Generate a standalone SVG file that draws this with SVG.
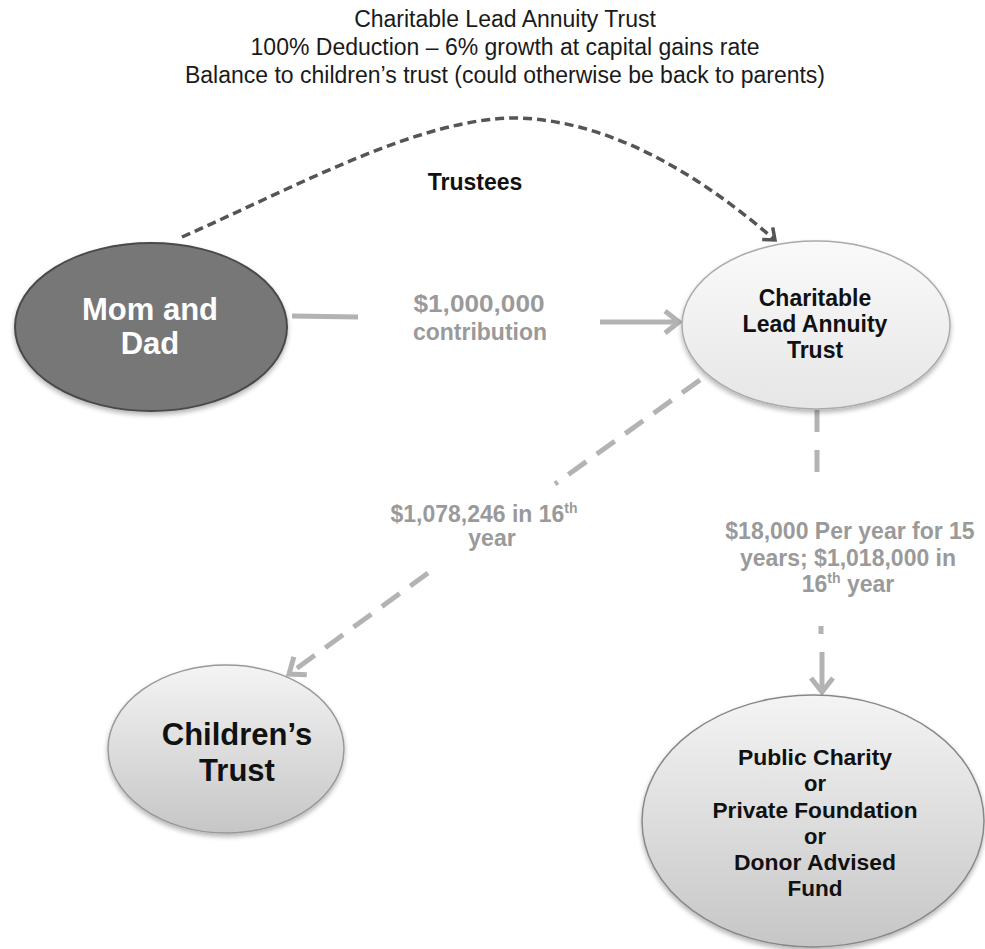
<svg xmlns="http://www.w3.org/2000/svg" width="985" height="949" viewBox="0 0 985 949">
<defs>
<style>
.t{font-family:"Liberation Sans",Arial,sans-serif;text-anchor:middle}
.title{font-size:23px;fill:#1a1a1a}
.lbl{font-size:23px;font-weight:bold;fill:#9a9a9a}
.nb{font-weight:bold;fill:#111}
.conn{fill:none;stroke:#b3b3b3;stroke-width:5}
</style>
<linearGradient id="gLight" x1="0" y1="0" x2="0" y2="1">
<stop offset="0" stop-color="#fafafa"/><stop offset="1" stop-color="#e6e6e6"/>
</linearGradient>
<linearGradient id="gGrey" x1="0" y1="0" x2="0" y2="1">
<stop offset="0" stop-color="#f4f4f4"/><stop offset="1" stop-color="#c6c6c6"/>
</linearGradient>
<filter id="sh" x="-10%" y="-10%" width="120%" height="125%">
<feGaussianBlur in="SourceAlpha" stdDeviation="2.5"/>
<feOffset dy="3"/>
<feComponentTransfer><feFuncA type="linear" slope="0.3"/></feComponentTransfer>
<feMerge><feMergeNode/><feMergeNode in="SourceGraphic"/></feMerge>
</filter>
<marker id="aL" markerUnits="userSpaceOnUse" markerWidth="30" markerHeight="30" viewBox="0 0 30 30" refX="26" refY="15" orient="auto">
<path d="M12,4 L26,15 L12,26" fill="none" stroke="#b3b3b3" stroke-width="5"/>
</marker>
<marker id="aD" markerUnits="userSpaceOnUse" markerWidth="24" markerHeight="24" viewBox="0 0 24 24" refX="20" refY="12" orient="auto">
<path d="M10,4 L20,12 L10,20" fill="none" stroke="#555" stroke-width="3.5"/>
</marker>
</defs>
<rect width="985" height="949" fill="#fff"/>

<g id="title">
<text class="t title" x="505" y="27">Charitable Lead Annuity Trust</text>
<text class="t title" x="505" y="55">100% Deduction – 6% growth at capital gains rate</text>
<text class="t title" x="505" y="83">Balance to children’s trust (could otherwise be back to parents)</text>
</g>

<g id="connectors">
<path d="M182,237 C300,185 420,118 516,118 C610,120 700,175 775,240" fill="none" stroke="#555" stroke-width="3.5" stroke-dasharray="9,5" marker-end="url(#aD)"/>
<line class="conn" x1="292" y1="316" x2="358" y2="317"/>
<line class="conn" x1="600" y1="322" x2="679" y2="322" marker-end="url(#aL)"/>
<line class="conn" x1="700" y1="380" x2="555" y2="484" stroke-width="6" stroke-dasharray="22,13"/>
<line class="conn" x1="428" y1="573" x2="289" y2="674" stroke-width="6" stroke-dasharray="22,13" marker-end="url(#aL)"/>
<line class="conn" x1="817" y1="410" x2="817" y2="472" stroke-width="6" stroke-dasharray="22,18"/>
<line class="conn" x1="821" y1="626" x2="821" y2="634" stroke-width="6"/>
<line class="conn" x1="822" y1="652" x2="822" y2="692" marker-end="url(#aL)"/>
</g>

<g id="labels">
<text class="t" x="479" y="312" font-size="24" font-weight="bold" fill="#9a9a9a" textLength="131" lengthAdjust="spacingAndGlyphs">$1,000,000</text>
<text class="t" x="480" y="340" font-size="24" font-weight="bold" fill="#9a9a9a" textLength="134" lengthAdjust="spacingAndGlyphs">contribution</text>
<text class="t" x="475" y="190" font-size="23" font-weight="bold" fill="#111">Trustees</text>
<text class="t lbl" x="484" y="522">$1,078,246 in 16<tspan font-size="14" dy="-9">th</tspan></text>
<text class="t lbl" x="492" y="546">year</text>
<text class="t lbl" x="850" y="539">$18,000 Per year for 15</text>
<text class="t lbl" x="848" y="566">years; $1,018,000 in</text>
<text class="t lbl" x="848" y="592">16<tspan font-size="14" dy="-9">th</tspan><tspan dy="9"> year</tspan></text>
</g>

<g id="node-mom-dad">
<ellipse cx="151" cy="327" rx="136" ry="84" fill="#777" stroke="#4a4a4a" stroke-width="2" filter="url(#sh)"/>
<text class="t" x="150" y="320" font-size="31" font-weight="bold" fill="#fff">Mom and</text>
<text class="t" x="150" y="354" font-size="31" font-weight="bold" fill="#fff">Dad</text>
</g>

<g id="node-clat">
<ellipse cx="816" cy="325" rx="134" ry="84" fill="url(#gLight)" stroke="#aaa" stroke-width="1.5" filter="url(#sh)"/>
<text class="t nb" x="815" y="306" font-size="23">Charitable</text>
<text class="t nb" x="815" y="332" font-size="23">Lead Annuity</text>
<text class="t nb" x="815" y="358" font-size="23">Trust</text>
</g>

<g id="node-childrens-trust">
<ellipse cx="226" cy="749" rx="118" ry="84" fill="url(#gGrey)" stroke="#999" stroke-width="1.5" filter="url(#sh)"/>
<text class="t nb" x="237" y="745" font-size="31">Children’s</text>
<text class="t nb" x="237" y="781" font-size="31">Trust</text>
</g>

<g id="node-charity">
<ellipse cx="813" cy="821" rx="171" ry="126" fill="url(#gGrey)" stroke="#888" stroke-width="1.5" filter="url(#sh)"/>
<text class="t nb" x="815" y="765" font-size="22" textLength="154" lengthAdjust="spacingAndGlyphs">Public Charity</text>
<text class="t nb" x="815" y="791" font-size="22">or</text>
<text class="t nb" x="815" y="818" font-size="22" textLength="205" lengthAdjust="spacingAndGlyphs">Private Foundation</text>
<text class="t nb" x="815" y="844" font-size="22">or</text>
<text class="t nb" x="815" y="870" font-size="22" textLength="162" lengthAdjust="spacingAndGlyphs">Donor Advised</text>
<text class="t nb" x="815" y="896" font-size="22" textLength="55" lengthAdjust="spacingAndGlyphs">Fund</text>
</g>
</svg>
